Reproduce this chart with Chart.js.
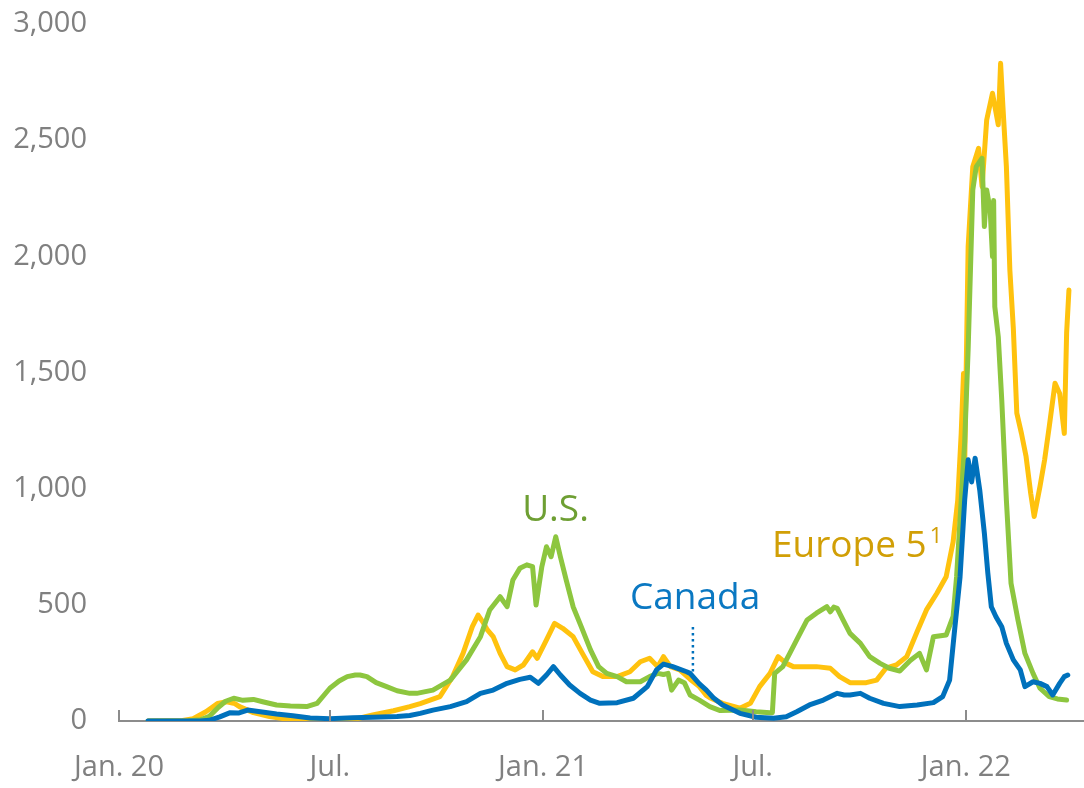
<!DOCTYPE html>
<html><head><meta charset="utf-8">
<script src="https://cdn.jsdelivr.net/npm/chart.js@4.4.1/dist/chart.umd.min.js"></script>
<style>html,body{margin:0;padding:0;background:#fff}#wrap{width:1084px;height:788px;position:relative}</style>
</head><body><div id="wrap"><canvas id="c"></canvas></div>
<script>
// Days counted from Jan 1, 2020
const tickDays = [0, 182, 366, 547, 731];
const tickLabels = ['Jan. 20', 'Jul.', 'Jan. 21', 'Jul.', 'Jan. 22'];
const yTicks = [0, 500, 1000, 1500, 2000, 2500, 3000];

const usDays = [25,60,70,78,85,92,99,107,116,124,136,148,162,171,182,190,197,204,208,214,222,231,240,251,257,271,286,300,312,320,329,335,340,346,352,357,360,365,369,373,377,381,386,392,399,407,414,421,430,438,450,458,465,470,474,477,483,488,493,501,510,519,536,550,562,564,566,573,579,585,594,602,611,614,617,620,625,631,640,648,657,665,674,683,691,697,703,714,720,723,727,730,733,737,740,745,747,749,752,754,755,756,759,762,766,770,776,782,789,795,803,810,818];
const usCases = [0,1,5,20,55,85,98,89,93,83,69,65,62,76,141,172,191,198,198,191,165,148,130,119,119,133,176,263,363,478,535,492,607,657,672,664,499,664,750,707,793,707,607,492,406,306,234,205,191,169,169,191,205,200,205,133,176,165,112,90,62,45,47,40,36,36,205,234,291,349,435,464,492,470,490,485,435,377,334,277,248,227,215,260,291,220,363,370,450,620,950,1200,1600,2286,2386,2422,2128,2286,2200,1999,2240,1783,1654,1382,951,593,435,291,205,141,105,95,90];

const canadaDays = [25,70,78,87,96,103,111,122,136,150,165,182,202,219,240,251,260,271,286,300,312,323,335,346,355,362,369,375,381,389,398,407,415,430,444,456,464,470,478,490,493,501,507,513,521,536,550,565,576,585,596,608,620,626,631,640,648,660,674,689,703,711,717,721,726,730,733,736,739,743,747,750,753,757,762,766,772,778,782,789,795,801,806,812,816,819];
const canadaCases = [0,0,3,18,36,34,47,40,30,23,13,10,14,16,19,24,33,47,62,83,119,133,162,179,188,162,198,234,198,155,119,90,76,79,98,148,220,245,234,212,205,160,133,100,69,33,16,12,18,40,69,90,119,112,112,119,98,76,62,69,79,105,176,377,620,951,1124,1029,1131,994,808,636,492,449,406,334,263,220,148,169,162,148,112,162,191,198];

const europeDays = [25,55,64,75,85,93,100,104,116,130,145,162,182,202,219,237,251,260,277,288,297,305,310,314,318,323,329,335,342,349,357,361,369,376,383,392,400,409,418,430,441,450,458,465,470,476,484,493,501,507,510,521,536,545,553,562,569,576,582,602,614,622,631,645,654,662,671,680,689,697,706,714,720,724,727,729,730,733,737,742,745,749,754,759,761,763,766,769,772,775,779,783,787,790,795,799,803,808,812,816,818,820];
const europeCases = [0,2,10,40,75,83,75,62,36,19,8,4,3,6,26,44,62,75,105,191,291,406,456,427,392,363,291,234,220,241,298,270,349,420,399,363,291,212,191,191,212,255,270,234,277,234,220,180,148,110,100,76,55,76,148,205,277,248,234,234,227,191,165,165,176,227,241,277,385,478,550,621,770,950,1238,1496,1100,2042,2386,2465,2300,2587,2702,2566,2831,2645,2386,1941,1690,1325,1238,1138,980,880,1009,1124,1267,1454,1410,1238,1670,1855];

const seriesNames = ['Canada', 'U.S.', 'Europe 5'];
const seriesColors = ['#0071BC', '#8DC63F', '#FFC20E'];

const toPoints = (days, vals) => days.map((d, i) => ({x: d, y: vals[i]}));

const notes = [
  {text: 'U.S.', day: 348, value: 861, color: '#6E9F33'},
  {text: 'Canada', day: 441, value: 482, color: '#0A78C2'},
  {text: 'Europe 5', sup: '1', day: 563.6, value: 706, color: '#D19F06'}
];
const leader = {day: 495.4, from: 211, to: 405, color: '#0071BC'};

const FONT = "'Open Sans', 'Liberation Sans', sans-serif";
const GREY = '#808080';

const overlay = {
  id: 'overlay',
  afterDatasetsDraw(chart) {
    const {ctx, scales: {x, y}} = chart;
    ctx.save();
    // upward tick marks on the x axis
    ctx.strokeStyle = '#8C8C8C';
    ctx.lineWidth = 2;
    const yb = y.getPixelForValue(0);
    tickDays.forEach(d => {
      const px = Math.round(x.getPixelForValue(d));
      ctx.beginPath(); ctx.moveTo(px, yb); ctx.lineTo(px, yb - 11); ctx.stroke();
    });
    // dotted leader for Canada
    ctx.strokeStyle = leader.color;
    ctx.lineWidth = 2.5;
    ctx.setLineDash([2.5, 3.5]);
    const lx = x.getPixelForValue(leader.day);
    ctx.beginPath();
    ctx.moveTo(lx, y.getPixelForValue(leader.to));
    ctx.lineTo(lx, y.getPixelForValue(leader.from));
    ctx.stroke();
    ctx.setLineDash([]);
    // series labels
    ctx.textBaseline = 'alphabetic';
    ctx.textAlign = 'left';
    notes.forEach(n => {
      const px = x.getPixelForValue(n.day), py = y.getPixelForValue(n.value);
      ctx.font = '37px ' + FONT;
      ctx.fillStyle = n.color;
      ctx.fillText(n.text, px, py);
      if (n.sup) {
        const w = ctx.measureText(n.text).width;
        ctx.font = '22px ' + FONT;
        ctx.fillText(n.sup, px + w + 3, py - 14);
      }
    });
    ctx.restore();
  }
};

new Chart(document.getElementById('c'), {
  type: 'line',
  data: {
    datasets: [
      {label: seriesNames[0], data: toPoints(canadaDays, canadaCases), borderColor: seriesColors[0]},
      {label: seriesNames[1], data: toPoints(usDays, usCases), borderColor: seriesColors[1]},
      {label: seriesNames[2], data: toPoints(europeDays, europeCases), borderColor: seriesColors[2]}
    ].map(d => Object.assign(d, {borderWidth: 5, pointRadius: 0, tension: 0, fill: false,
      borderJoinStyle: 'round', borderCapStyle: 'round'}))
  },
  options: {
    responsive: true,
    maintainAspectRatio: false,
    animation: false,
    devicePixelRatio: 1,
    layout: {padding: {top: 24, left: 0, right: 0, bottom: 0}},
    plugins: {legend: {display: false}, tooltip: {enabled: false}},
    scales: {
      x: {
        type: 'linear', min: 0, max: 833,
        afterBuildTicks: s => { s.ticks = tickDays.map(v => ({value: v})); },
        afterFit: s => { s.height = 67; s.paddingLeft = 0; s.paddingRight = 0; },
        grid: {display: false},
        border: {display: true, color: '#8C8C8C', width: 2},
        ticks: {
          autoSkip: false, maxRotation: 0, padding: 21,
          color: GREY, font: {family: FONT, size: 29},
          callback: (v, i) => tickLabels[i]
        }
      },
      y: {
        min: 0, max: 3000,
        afterBuildTicks: s => { s.ticks = yTicks.map(v => ({value: v})); },
        afterFit: s => { s.width = 119; s.paddingTop = 0; s.paddingBottom = 0; },
        grid: {display: false},
        border: {display: false},
        ticks: {
          padding: 24, color: GREY, font: {family: FONT, size: 29},
          callback: v => v.toLocaleString('en-US')
        }
      }
    }
  },
  plugins: [overlay]
});
</script>
</body></html>
